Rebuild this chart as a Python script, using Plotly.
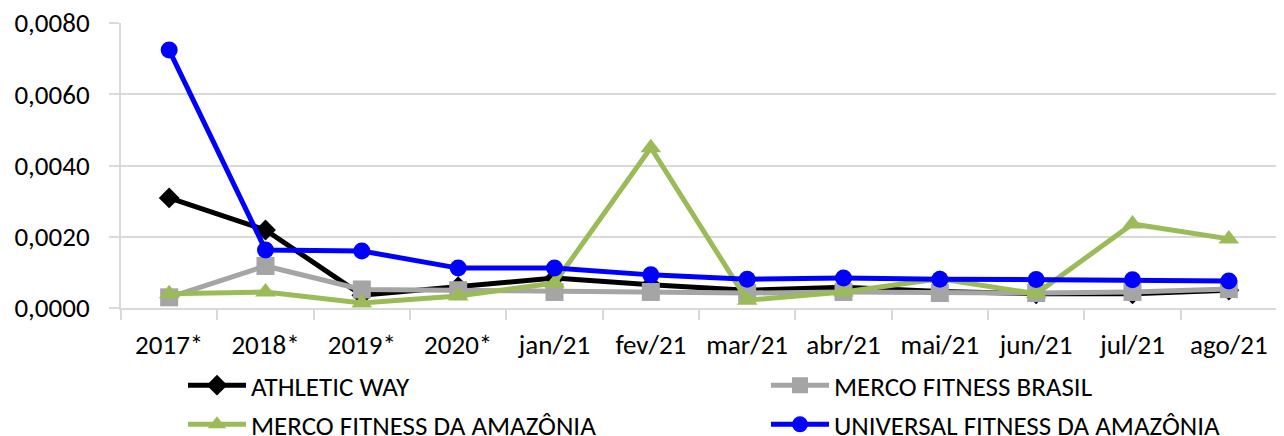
import plotly.graph_objects as go

categories = ["2017*", "2018*", "2019*", "2020*", "jan/21", "fev/21", "mar/21",
              "abr/21", "mai/21", "jun/21", "jul/21", "ago/21"]
athletic_way = [0.00309, 0.00219, 0.00036, 0.00060, 0.00084, 0.00065, 0.00050,
                0.00058, 0.00046, 0.00040, 0.00040, 0.00050]
merco_brasil = [0.00030, 0.00118, 0.00052, 0.00050, 0.00045, 0.00045, 0.00042,
                0.00045, 0.00042, 0.00042, 0.00045, 0.00053]
merco_amazonia = [0.00040, 0.00045, 0.00014, 0.00034, 0.00070, 0.00450, 0.00022,
                  0.00045, 0.00082, 0.00040, 0.00236, 0.00194]
universal_amazonia = [0.00724, 0.00163, 0.00160, 0.00112, 0.00112, 0.00093, 0.00081,
                      0.00084, 0.00081, 0.00080, 0.00079, 0.00076]

series = [
    ("ATHLETIC WAY", athletic_way, "#000000", "diamond", 16, "legend"),
    ("MERCO FITNESS BRASIL", merco_brasil, "#a5a5a5", "square", 18, "legend2"),
    ("MERCO FITNESS DA AMAZÔNIA", merco_amazonia, "#9bbb59", "triangle-up", 18, "legend"),
    ("UNIVERSAL FITNESS DA AMAZÔNIA", universal_amazonia, "#0000ff", "circle", 17, "legend2"),
]

FONT = "Carlito, 'Liberation Sans Narrow', 'Open Sans', sans-serif"

fig = go.Figure()
for i, (name, vals, color, sym, size, lg) in enumerate(series):
    fig.add_trace(go.Scatter(
        x=categories, y=vals, name=name, mode="lines+markers",
        line=dict(color=color, width=5),
        marker=dict(symbol=sym, size=size, color=color),
        cliponaxis=False, legend=lg, legendgroup=f"g{i}",
    ))

legend_common = dict(
    orientation="v", yanchor="top", xanchor="left",
    xref="container", yref="container", y=0.19,
    itemwidth=58, tracegroupgap=1, traceorder="grouped",
    font=dict(family=FONT, size=27, color="#000000"),
    bgcolor="rgba(0,0,0,0)",
)

fig.update_layout(
    width=1284, height=436,
    margin=dict(l=113, r=15, t=15, b=136, autoexpand=False),
    plot_bgcolor="white", paper_bgcolor="white",
    separators=", ",
    font=dict(family=FONT, size=27, color="#000000"),
    showlegend=True,
    legend=dict(legend_common, x=175 / 1284),
    legend2=dict(legend_common, x=758 / 1284),
    xaxis=dict(
        type="category", range=[-0.5, 11.5],
        showgrid=False, showline=True, linecolor="#d9d9d9", linewidth=2,
        ticks="outside", tickson="boundaries", ticklen=10, tickcolor="#d9d9d9", tickwidth=2,
        ticklabelstandoff=12, tickfont=dict(family=FONT, size=27),
        automargin=False, ticklabeloverflow="allow",
    ),
    yaxis=dict(
        range=[0, 0.008], dtick=0.002, tickformat=".4f",
        showgrid=True, gridcolor="#d9d9d9", gridwidth=2,
        showline=True, linecolor="#d9d9d9", linewidth=2,
        ticks="outside", ticklen=10, tickcolor="#d9d9d9", tickwidth=2,
        ticklabelstandoff=14, zeroline=False,
        tickfont=dict(family=FONT, size=27), automargin=False,
        ticklabeloverflow="allow",
    ),
)

fig.write_html("out.html")
